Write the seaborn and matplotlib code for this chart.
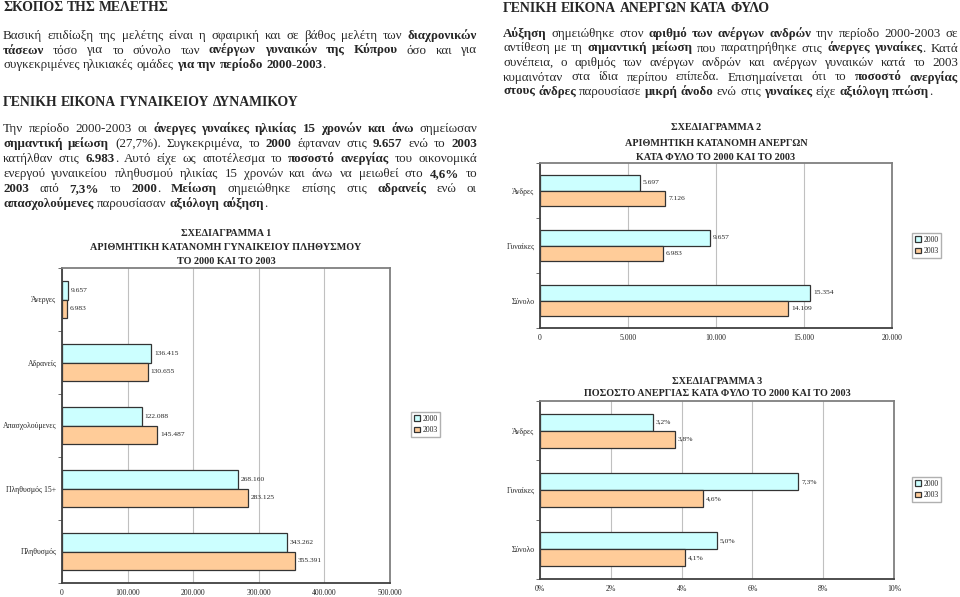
import numpy as np
import pandas as pd
import matplotlib
matplotlib.use("Agg")
import matplotlib.pyplot as plt
import seaborn as sns

W, H = 960, 597

# chart 1 - female population
pop_cats = ["Άνεργες", "Αδρανείς", "Απασχολούμενες", "Πληθυσμός 15+", "Πληθυσμός"]
pop_2000 = [9657, 136415, 122088, 268160, 343262]
pop_2003 = [6983, 130655, 145487, 283125, 355391]

# chart 2 - unemployed by sex
sex_cats = ["Άνδρες", "Γυναίκες", "Σύνολο"]
unemp_2000 = [5697, 9657, 15354]
unemp_2003 = [7126, 6983, 14109]

# chart 3 - unemployment rate by sex (%)
rate_2000 = [3.2, 7.3, 5.0]
rate_2003 = [3.8, 4.6, 4.1]

years = ["2000", "2003"]
colors = {"2000": "#CCFFFF", "2003": "#FFCC99"}

# page text, *...* = bold
head1 = "*ΣΚΟΠΟΣ ΤΗΣ ΜΕΛΕΤΗΣ*"
para1 = [
    "Βασική επιδίωξη της μελέτης είναι η σφαιρική και σε βάθος μελέτη των *διαχρονικών*",
    "*τάσεων* τόσο για το σύνολο των *ανέργων γυναικών της Κύπρου* όσο και για",
    "συγκεκριμένες ηλικιακές ομάδες *για την περίοδο 2000-2003*.",
]
head2 = "*ΓΕΝΙΚΗ ΕΙΚΟΝΑ ΓΥΝΑΙΚΕΙΟΥ ΔΥΝΑΜΙΚΟΥ*"
para2 = [
    "Την περίοδο 2000-2003 οι *άνεργες γυναίκες ηλικίας 15 χρονών και άνω* σημείωσαν",
    "*σημαντική μείωση* (27,7%). Συγκεκριμένα, το *2000* έφταναν στις *9.657* ενώ το *2003*",
    "κατήλθαν στις *6.983*. Αυτό είχε ως αποτέλεσμα το *ποσοστό ανεργίας* του οικονομικά",
    "ενεργού γυναικείου πληθυσμού ηλικίας 15 χρονών και άνω να μειωθεί στο *4,6%* το",
    "*2003* από *7,3%* το *2000*. *Μείωση* σημειώθηκε επίσης στις *αδρανείς* ενώ οι",
    "*απασχολούμενες* παρουσίασαν *αξιόλογη αύξηση*.",
]
head3 = "*ΓΕΝΙΚΗ ΕΙΚΟΝΑ ΑΝΕΡΓΩΝ ΚΑΤΑ ΦΥΛΟ*"
para3 = [
    "*Αύξηση* σημειώθηκε στον *αριθμό των ανέργων ανδρών* την περίοδο 2000-2003 σε",
    "αντίθεση με τη *σημαντική μείωση* που παρατηρήθηκε στις *άνεργες γυναίκες*. Κατά",
    "συνέπεια, ο αριθμός των ανέργων ανδρών και ανέργων γυναικών κατά το 2003",
    "κυμαινόταν στα ίδια περίπου επίπεδα. Επισημαίνεται ότι το *ποσοστό ανεργίας*",
    "*στους άνδρες* παρουσίασε *μικρή άνοδο* ενώ στις *γυναίκες* είχε *αξιόλογη πτώση*.",
]

title1 = ["ΣΧΕΔΙΑΓΡΑΜΜΑ 1", "ΑΡΙΘΜΗΤΙΚΗ ΚΑΤΑΝΟΜΗ ΓΥΝΑΙΚΕΙΟΥ ΠΛΗΘΥΣΜΟΥ", "ΤΟ 2000 ΚΑΙ ΤΟ 2003"]
title2 = ["ΣΧΕΔΙΑΓΡΑΜΜΑ 2", "ΑΡΙΘΜΗΤΙΚΗ ΚΑΤΑΝΟΜΗ ΑΝΕΡΓΩΝ", "ΚΑΤΑ ΦΥΛΟ ΤΟ 2000 ΚΑΙ ΤΟ 2003"]
title3 = ["ΣΧΕΔΙΑΓΡΑΜΜΑ 3", "ΠΟΣΟΣΤΟ ΑΝΕΡΓΙΑΣ ΚΑΤΑ ΦΥΛΟ ΤΟ 2000 ΚΑΙ ΤΟ 2003"]

sns.set_style("white")
plt.rcParams['font.family'] = ['Liberation Serif', 'DejaVu Serif']

fig = plt.figure(figsize=(W / 100, H / 100), dpi=100)
renderer = fig.canvas.get_renderer()


def thousands(v):
    return f"{v:,.0f}".replace(",", ".")


def pct(v):
    return f"{v:.1f}%".replace(".", ",")


def parse(s):
    words = [[]]
    bold = False
    buf = ""
    for ch in s:
        if ch == "*":
            if buf:
                words[-1].append((buf, bold))
                buf = ""
            bold = not bold
        elif ch == " ":
            if buf:
                words[-1].append((buf, bold))
                buf = ""
            if words[-1]:
                words.append([])
        else:
            buf += ch
    if buf:
        words[-1].append((buf, bold))
    return [w for w in words if w]


def piece_width(txt, bold, size):
    t = fig.text(0, 0, txt, fontsize=size, fontweight="bold" if bold else "normal")
    w = t.get_window_extent(renderer).width
    t.remove()
    return w


def draw_line(s, x0, x1, y, size, justify=True):
    words = parse(s)
    widths = [[piece_width(p, b, size) for p, b in w] for w in words]
    total = sum(sum(w) for w in widths)
    gap = size * 100 / 72 * 0.25
    if justify and len(words) > 1:
        gap = (x1 - x0 - total) / (len(words) - 1)
    x = x0
    for w, ws in zip(words, widths):
        for (p, b), pw in zip(w, ws):
            fig.text(x / W, 1 - y / H, p, fontsize=size,
                     fontweight="bold" if b else "normal", ha="left", va="baseline")
            x += pw
        x += gap


def draw_para(lines, x0, x1, y0, step, size):
    for i, line in enumerate(lines):
        draw_line(line, x0, x1, y0 + i * step, size, justify=i < len(lines) - 1)


BODY = 9.4
HEAD = 9.9
draw_line(head1, 3, 477, 11, HEAD, justify=False)
draw_para(para1, 3, 477, 39, 14.5, BODY)
draw_line(head2, 3, 477, 106, HEAD, justify=False)
draw_para(para2, 3, 477, 132, 15, BODY)
draw_line(head3, 503, 958, 12, HEAD, justify=False)
draw_para(para3, 503, 958, 37, 14.5, BODY)


def bar_chart(box, cats, v2000, v2003, xmax, step, tickfmt, labfmt, width,
              titles, title_y, legend_xy):
    left, top, right, bottom = box
    ax = fig.add_axes([left / W, 1 - bottom / H, (right - left) / W, (bottom - top) / H])
    df = pd.DataFrame({
        "cat": list(cats) * 2,
        "year": [years[0]] * len(cats) + [years[1]] * len(cats),
        "value": list(v2000) + list(v2003),
    })
    sns.barplot(data=df, x="value", y="cat", hue="year", palette=colors,
                width=width, edgecolor="#333333", linewidth=0.9, saturation=1,
                errorbar=None, ax=ax)
    ax.set_xlim(0, xmax)
    ax.set_ylim(len(cats) - 0.5, -0.5)
    ticks = np.arange(0, xmax + step / 2, step)
    ax.set_xticks(ticks)
    ax.set_xticklabels([tickfmt(t) for t in ticks], fontsize=5.6)
    ax.set_yticks(range(len(cats)))
    ax.set_yticklabels(cats, fontsize=5.6)
    ax.set_yticks(np.arange(len(cats) + 1) - 0.5, minor=True)
    ax.tick_params(axis="y", which="major", length=0, pad=4)
    ax.tick_params(axis="y", which="minor", length=3, left=True, color="#555555")
    ax.tick_params(axis="x", length=0, pad=4)
    ax.set_xlabel("")
    ax.set_ylabel("")
    ax.set_axisbelow(True)
    ax.xaxis.grid(True, color="#C0C0C0", lw=0.8)
    for name, sp in ax.spines.items():
        sp.set_visible(True)
        sp.set_color("#7F7F7F")
        sp.set_linewidth(1.3)
    ax.spines["left"].set_color("#404040")
    ax.spines["bottom"].set_color("#404040")
    for c in ax.containers:
        ax.bar_label(c, labels=[labfmt(v) for v in c.datavalues], padding=2,
                     fontsize=5.4)
    handles, labels = ax.get_legend_handles_labels()
    ax.legend(handles, labels, loc="upper left",
              bbox_to_anchor=(legend_xy[0] / W, 1 - legend_xy[1] / H),
              bbox_transform=fig.transFigure, fontsize=5.6, frameon=True,
              fancybox=False, edgecolor="#B0B0B0", framealpha=1,
              handlelength=0.75, handleheight=0.75, handletextpad=0.35,
              borderpad=0.35, labelspacing=0.45, borderaxespad=0)
    cx = (left + right) / 2
    for i, line in enumerate(titles):
        fig.text(cx / W, 1 - title_y[i] / H, line, ha="center", va="center",
                 fontsize=7.3, fontweight="bold")
    return ax


bar_chart((62, 268, 390, 583), pop_cats, pop_2000, pop_2003, 500000, 100000,
          thousands, thousands, 0.58, title1, [234, 248, 261], (411, 412))
bar_chart((540, 163, 892, 328), sex_cats, unemp_2000, unemp_2003, 20000, 5000,
          thousands, thousands, 0.56, title2, [128, 143, 157], (912, 233))
bar_chart((540, 401, 894, 579), sex_cats, rate_2000, rate_2003, 10, 2,
          lambda v: f"{v:.0f}%", pct, 0.57, title3, [381, 393], (912, 477))

fig.savefig("out.png", dpi=100)
